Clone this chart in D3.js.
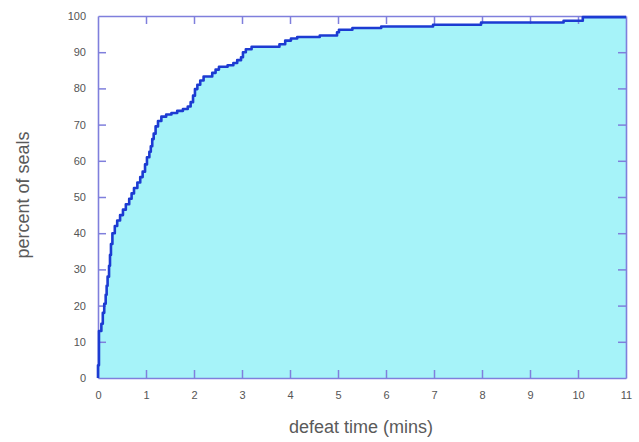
<!DOCTYPE html>
<html>
<head>
<meta charset="utf-8">
<script src="https://cdn.jsdelivr.net/npm/d3@7"></script>
<style>
  body { margin: 0; background: #fff; }
  text { font-family: "Liberation Sans", Arial, sans-serif; }
</style>
</head>
<body>
<svg id="chart"></svg>
<script>
// step points of the cumulative curve (time in mins, percent of seals)
const times = [0, 0, 0.02, 0.07, 0.1, 0.13, 0.16, 0.18, 0.2, 0.23, 0.25, 0.27, 0.3, 0.35, 0.4, 0.46, 0.52, 0.58,
  0.65, 0.7, 0.75, 0.82, 0.88, 0.93, 0.98, 1.02, 1.07, 1.1, 1.13, 1.16, 1.2, 1.25, 1.32, 1.42, 1.53, 1.65, 1.77,
  1.87, 1.93, 1.98, 2.02, 2.07, 2.13, 2.2, 2.38, 2.45, 2.52, 2.7, 2.82, 2.9, 2.98, 3.02, 3.08, 3.2, 3.78, 3.9,
  4.02, 4.15, 4.62, 4.98, 5.02, 5.3, 5.9, 6.98, 7.98, 9.7, 10.1, 11]
const percents = [0, 3.5, 13, 15, 18, 20.5, 23, 25.5, 28, 31, 34, 37, 40, 42, 43.5, 45, 46.5, 48,
  49.5, 51, 52.5, 54, 55.5, 57, 59, 61, 62.5, 64, 66, 67.5, 69.5, 71, 72.2, 72.8, 73.2, 73.8, 74.3,
  75, 76.2, 78, 79.8, 81, 82.2, 83.3, 84.3, 85.2, 86, 86.4, 87, 87.8, 88.6, 90, 90.8, 91.5, 92.2, 93.2,
  93.8, 94.2, 94.6, 95.5, 96.2, 96.7, 97.1, 97.6, 98.2, 98.7, 99.7, 99.7]

const xTicks = [0, 1, 2, 3, 4, 5, 6, 7, 8, 9, 10, 11]
const yTicks = [0, 10, 20, 30, 40, 50, 60, 70, 80, 90, 100]

const width = 639, height = 442
const mLeft = 98, mRight = 626, mTop = 16, mBottom = 378

const data = times.map((t, i) => ({ t: t, p: percents[i] }))

const svg = d3.select("#chart").attr("width", width).attr("height", height)

const x = d3.scaleLinear().domain([0, 11]).range([mLeft, mRight])
const y = d3.scaleLinear().domain([0, 100]).range([mBottom, mTop])

// filled area under the curve
const area = d3.area()
  .x(d => x(d.t))
  .y0(y(0))
  .y1(d => y(d.p))
  .curve(d3.curveStepAfter)

svg.append("path")
  .datum(data)
  .attr("d", area)
  .attr("fill", "#a6f3f9")

// frame + inward ticks on all four sides
const axisColor = "#7f7fdc"
const tickLen = 8

const gb = svg.append("g").attr("transform", `translate(0,${mBottom})`)
  .call(d3.axisBottom(x).tickValues(xTicks).tickSizeInner(-tickLen).tickSizeOuter(0).tickPadding(tickLen + 5))
const gt = svg.append("g").attr("transform", `translate(0,${mTop})`)
  .call(d3.axisTop(x).tickValues(xTicks).tickSizeInner(-tickLen).tickSizeOuter(0).tickFormat(""))
const gl = svg.append("g").attr("transform", `translate(${mLeft},0)`)
  .call(d3.axisLeft(y).tickValues(yTicks).tickSizeInner(-tickLen).tickSizeOuter(0).tickPadding(tickLen + 4))
const gr = svg.append("g").attr("transform", `translate(${mRight},0)`)
  .call(d3.axisRight(y).tickValues(yTicks).tickSizeInner(-tickLen).tickSizeOuter(0).tickFormat(""))

;[gb, gt, gl, gr].forEach(g => {
  g.select(".domain").attr("stroke", axisColor).attr("stroke-width", 1.6)
  g.selectAll(".tick line").attr("stroke", axisColor).attr("stroke-width", 1.5)
  g.selectAll(".tick text").attr("fill", "#555").style("font-size", "11px")
})
// end ticks at the frame corners are hidden
gb.selectAll(".tick line").filter(d => d === 0 || d === 11).remove()
gt.selectAll(".tick line").filter(d => d === 0 || d === 11).remove()
gl.selectAll(".tick line").filter(d => d === 0 || d === 100).remove()
gr.selectAll(".tick line").filter(d => d === 0 || d === 100).remove()

// the curve itself
const line = d3.line()
  .x(d => x(d.t))
  .y(d => y(d.p))
  .curve(d3.curveStepAfter)

svg.append("path")
  .datum(data)
  .attr("d", line)
  .attr("fill", "none")
  .attr("stroke", "#1c3bd2")
  .attr("stroke-width", 2.6)
  .attr("stroke-linejoin", "round")

// axis titles
svg.append("text")
  .attr("x", 361).attr("y", 433)
  .attr("text-anchor", "middle")
  .attr("fill", "#5a5a5a")
  .style("font-size", "18px")
  .text("defeat time (mins)")

svg.append("text")
  .attr("transform", "translate(29,195) rotate(-90)")
  .attr("text-anchor", "middle")
  .attr("fill", "#5a5a5a")
  .style("font-size", "18px")
  .text("percent of seals")
</script>
</body>
</html>
